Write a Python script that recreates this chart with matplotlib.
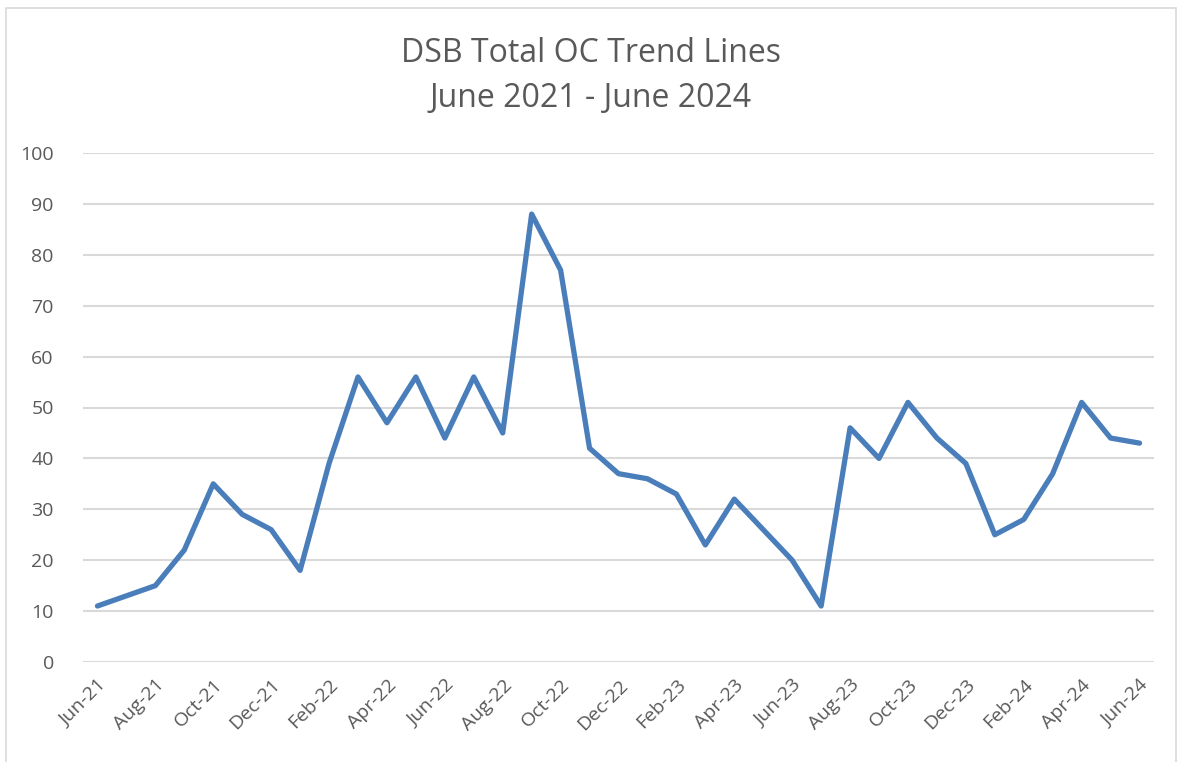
import matplotlib.pyplot as plt
from matplotlib.patches import Rectangle

plt.rcParams['font.family'] = ['Open Sans', 'DejaVu Sans']

months = ['Jun-21', 'Jul-21', 'Aug-21', 'Sep-21', 'Oct-21', 'Nov-21', 'Dec-21',
          'Jan-22', 'Feb-22', 'Mar-22', 'Apr-22', 'May-22', 'Jun-22', 'Jul-22',
          'Aug-22', 'Sep-22', 'Oct-22', 'Nov-22', 'Dec-22', 'Jan-23', 'Feb-23',
          'Mar-23', 'Apr-23', 'May-23', 'Jun-23', 'Jul-23', 'Aug-23', 'Sep-23',
          'Oct-23', 'Nov-23', 'Dec-23', 'Jan-24', 'Feb-24', 'Mar-24', 'Apr-24',
          'May-24', 'Jun-24']
total_oc = [11, 13, 15, 22, 35, 29, 26, 18, 39, 56, 47, 56, 44, 56, 45, 88, 77,
            42, 37, 36, 33, 23, 32, 26, 20, 11, 46, 40, 51, 44, 39, 25, 28, 37,
            51, 44, 43]
y_ticks = [0, 10, 20, 30, 40, 50, 60, 70, 80, 90, 100]

text_color = '#595959'
grid_color = '#D9D9D9'

fig = plt.figure(figsize=(11.82, 7.62), dpi=100)
ax = fig.add_axes([83 / 1182, 1 - 662 / 762, (1154 - 83) / 1182, (662 - 153) / 762])

x = list(range(len(months)))
ax.plot(x, total_oc, color='#4A7EBB', linewidth=3.8, solid_joinstyle='round',
        solid_capstyle='round', zorder=3)

ax.set_xlim(-0.5, len(months) - 0.5)
ax.set_ylim(0, 100)
ax.set_yticks(y_ticks)
ax.set_xticks(x[::2])
ax.set_xticklabels(months[::2], rotation=45, ha='right', rotation_mode='anchor')
ax.tick_params(axis='both', length=0, labelsize=14, labelcolor=text_color)
ax.tick_params(axis='y', pad=21)
ax.tick_params(axis='x', pad=10)
ax.grid(axis='y', color=grid_color, linewidth=1.5)
ax.set_axisbelow(True)
for s in ax.spines.values():
    s.set_visible(False)

fig.text(0.5, 1 - 76 / 762, 'DSB Total OC Trend Lines\nJune 2021 - June 2024',
         ha='center', va='center', fontsize=23, color=text_color, linespacing=1.45)

fig.patches.append(Rectangle((6 / 1182, -0.05), 1170 / 1182, 1.05 - 8 / 762,
                             transform=fig.transFigure, fill=False,
                             edgecolor=grid_color, linewidth=1.2))

fig.savefig('out.png', dpi=100)
